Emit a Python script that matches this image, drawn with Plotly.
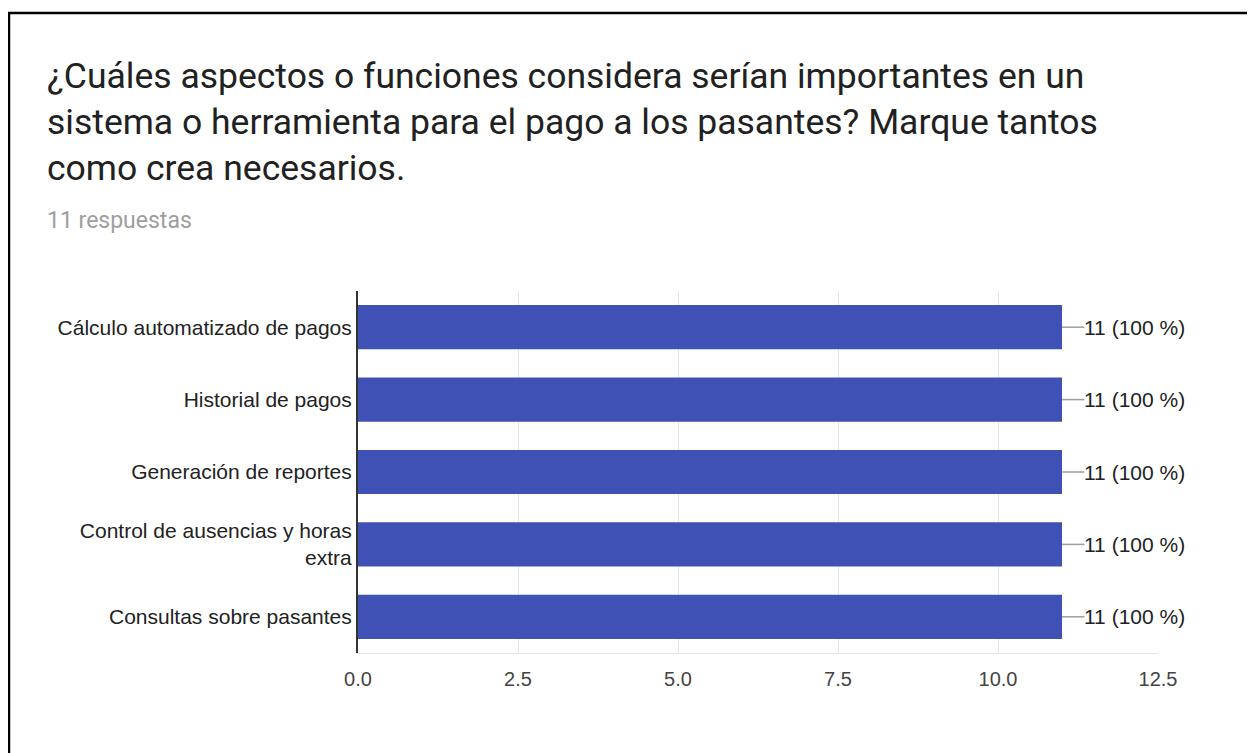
import plotly.graph_objects as go

categories = [
    "Cálculo automatizado de pagos",
    "Historial de pagos",
    "Generación de reportes",
    "Control de ausencias y horas<br>extra",
    "Consultas sobre pasantes",
]
values = [11, 11, 11, 11, 11]
total_responses = 11
title_lines = [
    "¿Cuáles aspectos o funciones considera serían importantes en un",
    "sistema o herramienta para el pago a los pasantes? Marque tantos",
    "como crea necesarios.",
]
subtitle = "11 respuestas"
x_ticks = [0, 2.5, 5, 7.5, 10, 12.5]
x_tick_labels = ["0.0", "2.5", "5.0", "7.5", "10.0", "12.5"]

OFF = 8  # page body margin offset
W, H = 1255 - OFF, 753 - OFF
L, R, T, B = 358 - OFF, 1158 - OFF, 291 - OFF, 653 - OFF
pw, ph = R - L, B - T


def px(x):
    return (x - OFF - L) / pw


def py(y):
    return (B - (y - OFF)) / ph


labels = [f"{v} ({round(v / total_responses * 100)} %)" for v in values]

fig = go.Figure(
    go.Bar(
        x=values,
        y=categories,
        orientation="h",
        marker=dict(color="#3f51b5", line=dict(width=0)),
        width=0.61,
        hoverinfo="skip",
    )
)

annotations = []
shapes = []
for cat, v, lab in zip(categories, values, labels):
    shapes.append(dict(type="line", xref="x", yref="y", x0=v, x1=v + 0.35, y0=cat, y1=cat,
                       line=dict(color="#9e9e9e", width=1.5)))
    annotations.append(dict(x=v + 0.35, y=cat, xref="x", yref="y", text=lab, showarrow=False,
                            xanchor="left", yanchor="middle", xshift=-2,
                            font=dict(family="Liberation Sans, Arial", size=21, color="#222222")))

title_y = [76, 122, 168]
for line, yy in zip(title_lines, title_y):
    annotations.append(dict(x=px(45), y=py(yy), xref="paper", yref="paper", text=line,
                            showarrow=False, xanchor="left", yanchor="middle",
                            font=dict(family="Roboto", size=35.5, color="#212121")))
annotations.append(dict(x=px(45), y=py(220), xref="paper", yref="paper", text=subtitle,
                        showarrow=False, xanchor="left", yanchor="middle",
                        font=dict(family="Roboto", size=23, color="#9e9e9e")))

# outer card border (left and top edges)
shapes.append(dict(type="line", xref="paper", yref="paper", x0=px(9), x1=px(9), y0=py(12), y1=py(770),
                   line=dict(color="#000000", width=2.5)))
shapes.append(dict(type="line", xref="paper", yref="paper", x0=px(8), x1=px(1270), y0=py(13), y1=py(13),
                   line=dict(color="#000000", width=2.5)))

fig.update_layout(
    width=W, height=H,
    margin=dict(l=L, r=W - R, t=T, b=H - B, pad=0),
    paper_bgcolor="white", plot_bgcolor="white",
    showlegend=False,
    annotations=annotations,
    shapes=shapes,
    xaxis=dict(range=[0, 12.5], tickvals=x_ticks, ticktext=x_tick_labels,
               showgrid=True, gridcolor="#e6e6e6", gridwidth=1,
               zeroline=False, showline=True, linecolor="#e6e6e6", linewidth=1,
               ticks="", ticklen=0, tickfont=dict(family="Liberation Sans, Arial", size=20, color="#444444"),
               ticklabelstandoff=8, fixedrange=True),
    yaxis=dict(categoryorder="array", categoryarray=categories[::-1], autorange=False,
               range=[-0.5, len(categories) - 0.5],
               showgrid=False, zeroline=False, showline=True, linecolor="#333333", linewidth=2,
               ticks="", ticklen=0,
               tickfont=dict(family="Liberation Sans, Arial", size=21, color="#222222"),
               ticklabelstandoff=0, fixedrange=True),
)

fig.write_html("out.html")
